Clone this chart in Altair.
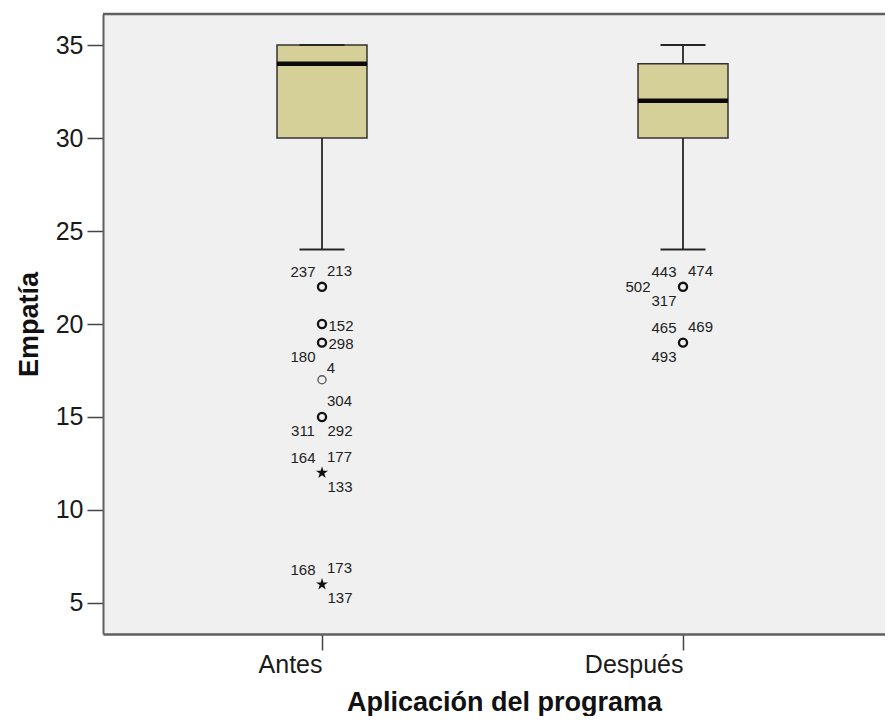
import altair as alt
import pandas as pd

# ---- data ----
groups = ["Antes", "Después"]
whisker_low = [24, 24]
q1 = [30, 30]
median = [34, 32]
q3 = [35, 34]
whisker_high = [35, 35]

out_group = ["Antes", "Antes", "Antes", "Antes", "Antes", "Antes", "Antes", "Después", "Después"]
out_value = [22, 20, 19, 17, 15, 12, 6, 22, 19]
out_kind = ["circle", "circle", "circle", "circle", "circle", "star", "star", "circle", "circle"]
out_weight = ["bold", "bold", "bold", "light", "bold", "bold", "bold", "bold", "bold"]

label_group = ["Antes"] * 15 + ["Después"] * 7
label_value = [22, 22, 20, 19, 19, 17, 15, 15, 15, 12, 12, 12, 6, 6, 6,
               22, 22, 22, 22, 19, 19, 19]
label_text = ["237", "213", "152", "298", "180", "4", "304", "311", "292",
              "164", "177", "133", "168", "173", "137",
              "443", "474", "502", "317", "465", "469", "493"]
label_place = ["ul", "ur", "r", "r", "ll", "u", "ur", "ll", "lr",
               "ul", "ur", "lr", "ul", "ur", "lr",
               "ul", "ur", "l", "ll", "ul", "ur", "ll"]

y_ticks = [5, 10, 15, 20, 25, 30, 35]

# ---- tables ----
box_df = pd.DataFrame({"group": groups, "low": whisker_low, "q1": q1,
                       "median": median, "q3": q3, "high": whisker_high})
out_df = pd.DataFrame({"group": out_group, "value": out_value,
                       "kind": out_kind, "weight": out_weight})
lab_df = pd.DataFrame({"group": label_group, "value": label_value,
                       "text": label_text, "place": label_place})

FONT = "Liberation Sans"
W, H = 782, 620

xscale = alt.Scale(type="point", domain=groups, padding=0.5831, align=0.5202)
yscale = alt.Scale(domain=[3.33, 36.67], nice=False, zero=False)

xaxis = alt.Axis(title="Aplicación del programa", labelAngle=0, labelFontSize=25,
                 labelFont=FONT, labelColor="#1a1a1a", labelPadding=14,
                 tickSize=16, tickColor="#444444", tickWidth=1.5,
                 domainColor="#5f5f5f", domainWidth=2.5, grid=False,
                 titleFont=FONT, titleFontSize=27, titleFontWeight="bold",
                 titleColor="#111111", titleX=401, titleY=76,
                 titleBaseline="alphabetic")
yaxis = alt.Axis(title="Empatía", values=y_ticks, labelFontSize=25, labelFont=FONT,
                 labelColor="#1a1a1a", labelPadding=4, tickSize=16,
                 tickColor="#444444", tickWidth=1.5, domainColor="#5f5f5f",
                 domainWidth=2, grid=False, titleFont=FONT, titleFontSize=27,
                 titleFontWeight="bold", titleColor="#111111", titleX=-66,
                 titleBaseline="alphabetic")

X = alt.X("group:N", scale=xscale, axis=xaxis)
XN = alt.X("group:N", scale=xscale)

base = alt.Chart(box_df)

stem_low = base.mark_rule(color="#262626", strokeWidth=1.8).encode(
    x=X, y=alt.Y("low:Q", scale=yscale, axis=yaxis), y2="q1:Q")
stem_high = base.mark_rule(color="#262626", strokeWidth=1.8).encode(
    x=XN, y=alt.Y("q3:Q", scale=yscale), y2="high:Q")
cap_low = base.mark_tick(size=45, thickness=2, color="#262626", opacity=1).encode(
    x=XN, y=alt.Y("low:Q", scale=yscale))
cap_high = base.mark_tick(size=45, thickness=2, color="#262626", opacity=1).encode(
    x=XN, y=alt.Y("high:Q", scale=yscale))
box = base.mark_bar(size=90, fill="#D5CF98", stroke="#333333", strokeWidth=1.5).encode(
    x=XN, y=alt.Y("q1:Q", scale=yscale), y2="q3:Q")
med = base.mark_tick(size=90, thickness=4.5, color="#0a0a0a", opacity=1).encode(
    x=XN, y=alt.Y("median:Q", scale=yscale))

circles = alt.Chart(out_df).transform_filter(alt.datum.kind == "circle").mark_point(
    shape="circle", filled=False, size=66, opacity=1).encode(
    x=XN, y=alt.Y("value:Q", scale=yscale),
    strokeWidth=alt.StrokeWidth("weight:N", scale=alt.Scale(domain=["bold", "light"], range=[2.3, 1.3]), legend=None),
    color=alt.Color("weight:N", scale=alt.Scale(domain=["bold", "light"], range=["#111111", "#555555"]), legend=None))

star_path = ("M0,-1L0.2245,-0.309L0.9511,-0.309L0.3633,0.118L0.5878,0.809L0,0.382"
             "L-0.5878,0.809L-0.3633,0.118L-0.9511,-0.309L-0.2245,-0.309Z")
stars = alt.Chart(out_df).transform_filter(alt.datum.kind == "star").mark_point(
    shape=star_path, filled=True, size=160, color="#111111", opacity=1).encode(
    x=XN, y=alt.Y("value:Q", scale=yscale))

offsets = {"ul": (-19, -14.5), "ur": (17.5, -16), "r": (19, 1.5), "ll": (-19, 14),
           "lr": (18, 14), "l": (-45, 0), "u": (9, -12)}
label_layers = []
for p, (dx, dy) in offsets.items():
    label_layers.append(
        alt.Chart(lab_df).transform_filter(alt.datum.place == p).mark_text(
            dx=dx, dy=dy, fontSize=15, font=FONT, color="#222222",
            align="center", baseline="middle").encode(
            x=XN, y=alt.Y("value:Q", scale=yscale), text="text:N"))

top_border = alt.Chart(pd.DataFrame({"a": [0]})).mark_rule(
    color="#5f5f5f", strokeWidth=2.5).encode(
    x=alt.value(0), x2=alt.value(W), y=alt.value(0))

chart = alt.layer(box, stem_low, stem_high, cap_low, cap_high, med, circles, stars,
                  *label_layers, top_border).properties(
    width=W, height=H,
    autosize=alt.AutoSizeParams(type="none"),
    padding={"left": 95, "top": 6, "right": 0, "bottom": 82},
    background="white",
).configure_view(stroke=None, fill="#F0F0F0")

chart.save("out.html", embed_options={"renderer": "svg", "actions": False})
